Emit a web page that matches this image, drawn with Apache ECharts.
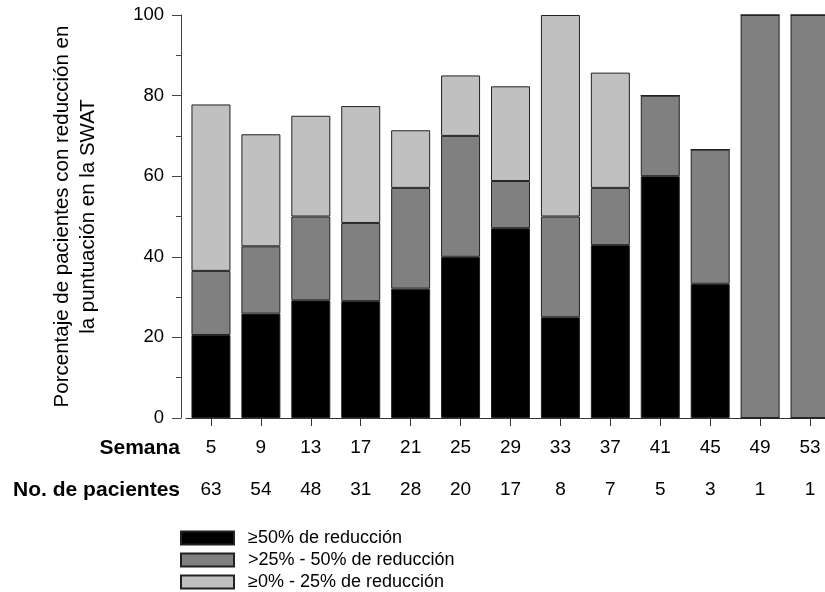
<!DOCTYPE html>
<html>
<head>
<meta charset="utf-8">
<script src="https://cdn.jsdelivr.net/npm/echarts@6/dist/echarts.min.js"></script>
<style>html,body{margin:0;padding:0;background:#fff}#c{width:825px;height:592px}</style>
</head>
<body>
<div id="c"></div>
<script>
const weeks = ['5','9','13','17','21','25','29','33','37','41','45','49','53'];
const patients = ['63','54','48','31','28','20','17','8','7','5','3','1','1'];
const seriesNames = ['≥50% de reducción', '>25% - 50% de reducción', '≥0% - 25% de reducción'];
const strong = [20.6, 25.9, 29.2, 29.0, 32.1, 40.0, 47.1, 25.0, 42.9, 60.0, 33.3, 0, 0];
const medium = [15.9, 16.7, 20.8, 19.4, 25.0, 30.0, 11.7, 25.0, 14.2, 20.0, 33.3, 100, 100];
const light  = [41.3, 27.8, 25.0, 29.0, 14.3, 15.0, 23.5, 50.0, 28.6, 0, 0, 0, 0];
const yTicks = [0, 20, 40, 60, 80, 100];

const colors = ['#000000', '#808080', '#c0c0c0'];
const FONT = 'Liberation Sans, Arial, sans-serif';
const chart = echarts.init(document.getElementById('c'), null, {renderer: 'canvas'});

const labelAxis = (data, off, name) => ({
  type: 'category', data: data, gridIndex: 0, position: 'bottom', offset: off,
  axisLine: {show: false}, axisTick: {show: false},
  axisLabel: {fontFamily: FONT, fontSize: 19, color: '#000', margin: 0, verticalAlign: 'middle', interval: 0},
  name: name, nameLocation: 'start', nameGap: 6,
  nameTextStyle: {fontFamily: FONT, fontSize: 21, fontWeight: 'bold', color: '#000', align: 'right', verticalAlign: 'middle'}
});

const mk = (i, arr) => ({
  name: seriesNames[i], type: 'bar', stack: 'all', data: arr, xAxisIndex: 0,
  barWidth: 39,
  itemStyle: {color: colors[i], borderColor: '#222', borderWidth: 1},
  emphasis: {disabled: true}
});

chart.setOption({
  animation: false,
  grid: {left: 186, top: 15, width: 649, height: 403, containLabel: false, outerBoundsMode: 'none'},
  legend: {
    orient: 'vertical', left: 180, top: 529, height: 70, padding: 0,
    itemWidth: 53, itemHeight: 13, itemGap: 4,
    icon: 'rect', selectedMode: false,
    textStyle: {fontFamily: FONT, fontSize: 18, color: '#000', padding: [0, 0, 0, 9]},
    data: seriesNames
  },
  xAxis: [
    {
      type: 'category', data: weeks, gridIndex: 0,
      axisLine: {show: true, lineStyle: {color: '#333', width: 1}},
      axisTick: {show: true, alignWithLabel: true, length: 8, lineStyle: {color: '#333'}},
      axisLabel: {show: false}
    },
    labelAxis(weeks, 30, 'Semana'),
    labelAxis(patients, 72, 'No. de pacientes')
  ],
  yAxis: {
    type: 'value', min: yTicks[0], max: yTicks[yTicks.length - 1], interval: 20, offset: 5,
    axisLine: {show: true, lineStyle: {color: '#444', width: 1}},
    axisTick: {show: true, length: 9, lineStyle: {color: '#444'}},
    minorTick: {show: true, splitNumber: 2, length: 5, lineStyle: {color: '#444'}},
    splitLine: {show: false},
    axisLabel: {fontFamily: FONT, fontSize: 18.5, color: '#000', margin: 17},
    name: 'Porcentaje de pacientes con reducción en\nla puntuación en la SWAT',
    nameLocation: 'middle', nameRotate: 90, nameGap: 80,
    nameTextStyle: {fontFamily: FONT, fontSize: 20.5, color: '#000', lineHeight: 26, align: 'center'}
  },
  series: [mk(0, strong), mk(1, medium), mk(2, light)]
});
</script>
</body>
</html>
